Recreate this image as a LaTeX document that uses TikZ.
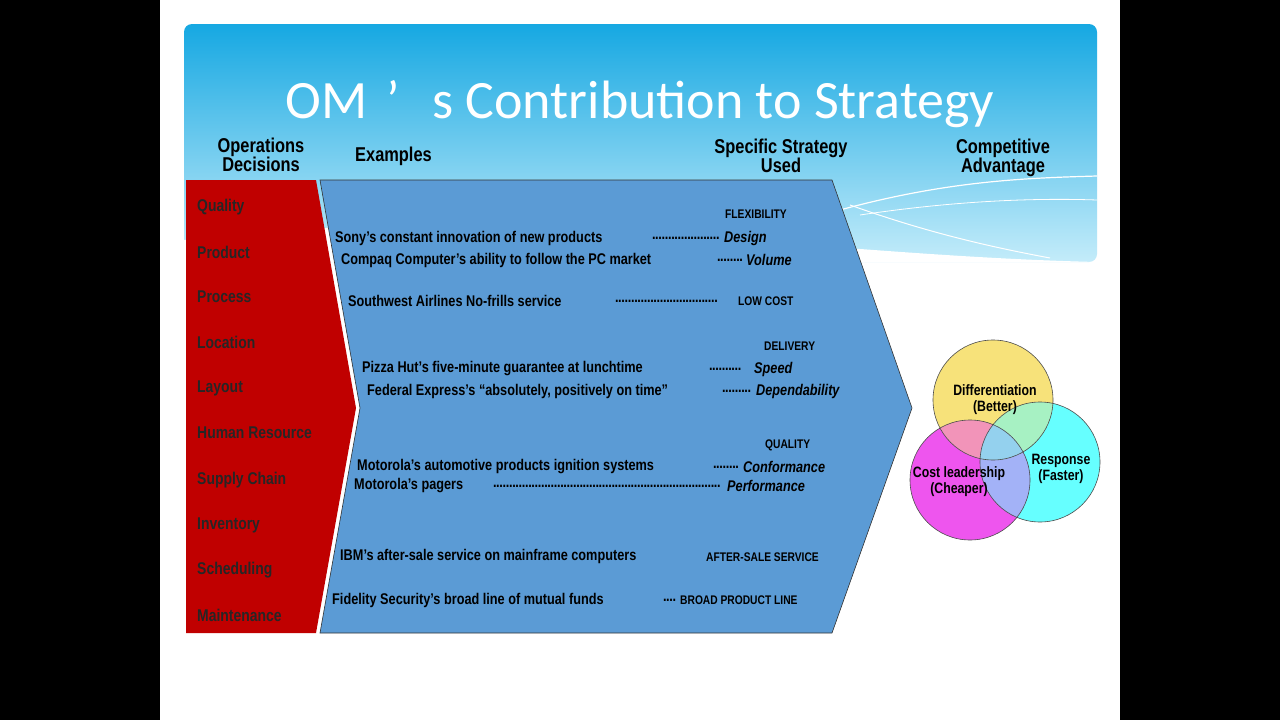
\documentclass[tikz,border=0pt]{standalone}
\usepackage{fontspec}
\setmainfont{Liberation Sans}[FakeStretch=0.82]
\newfontfamily\titlefont{Carlito}
\definecolor{hdtop}{HTML}{16A8E2}
\definecolor{hdbot}{HTML}{C4ECFA}
\definecolor{redbox}{HTML}{C00000}
\definecolor{bluebox}{HTML}{5B9BD5}
\definecolor{vyel}{HTML}{F7E27A}
\definecolor{vmag}{HTML}{EE55EE}
\definecolor{vcya}{HTML}{66FFFF}
\newcommand{\ldr}[1]{\hbox to #1pt{\leaders\hbox to 3.2pt{\hss.\hss}\hfill}}
\tikzset{
 hdr/.style={font=\bfseries\fontsize{20}{19}\selectfont,align=center,inner sep=0},
 dec/.style={font=\bfseries\fontsize{17}{17}\selectfont,anchor=west,inner sep=0,text=black!85},
 ex/.style={font=\bfseries\fontsize{15.5}{16}\selectfont,anchor=west,inner sep=0},
 capt/.style={font=\bfseries\fontsize{12.5}{13}\selectfont,anchor=west,inner sep=0},
 strat/.style={font=\bfseries\itshape\fontsize{15.5}{16}\selectfont,anchor=west,inner sep=0},
 vt/.style={font=\bfseries\fontsize{15}{16}\selectfont,align=center,inner sep=0}
}
\begin{document}
\begin{tikzpicture}[x=1pt,y=-1pt]
\useasboundingbox (0,0) rectangle (1280,720);
\fill[black] (0,0) rectangle (1280,720);
\fill[white] (160,0) rectangle (1120,720);
% header
\shade[top color=hdtop,bottom color=hdbot,rounded corners=8pt] (184,24) rectangle (1097,262);
\fill[white] (184,262) -- (184,240) .. controls (500,200) and (800,255) .. (1097,262) -- cycle;
\draw[white,line width=1.2pt] (840,210) .. controls (950,180) and (1030,178) .. (1097,176);
\draw[white,line width=1pt] (850,205) .. controls (920,230) and (980,245) .. (1050,258);
\draw[white,line width=0.8pt] (860,215) .. controls (960,200) and (1040,198) .. (1097,200);
\node[text=white,font=\titlefont\fontsize{54}{54}\selectfont,inner sep=0] (title) at (640,104) {OM\hspace{0.35em}’\hspace{0.6em}s Contribution to Strategy};
\node[hdr] (h1) at (261,155) {Operations\\Decisions};
\node[hdr,anchor=west] (h2) at (355,156) {Examples};
\node[hdr] (h3) at (781,156) {Specific Strategy\\Used};
\node[hdr] (h4) at (1003,158) {Competitive\\Advantage};
% red and blue chevrons
\fill[redbox] (186,180) -- (316,180) -- (356,408) -- (316,633) -- (186,633) -- cycle;
\draw[fill=bluebox,draw=black!80,line width=0.6pt] (320,180) -- (832,180) -- (912,408) -- (832,633) -- (320,633) -- (360,408) -- cycle;
% decisions
\foreach \t/\y [count=\i] in {Quality/207,Product/252,Process/297,Location/342,Layout/388,Human Resource/433,Supply Chain/480,Inventory/525,Scheduling/570,Maintenance/615}
  \node[dec] (d\i) at (197,\y) {\t};
% examples
\node[capt] (c1) at (725,214) {FLEXIBILITY};
\node[ex] (e1) at (335,238) {Sony’s constant innovation of new products};
\node[ex] (l1) at (652,238) {\ldr{70}};
\node[strat] (s1) at (724,238) {Design};
\node[ex] (e2) at (341,260) {Compaq Computer’s ability to follow the PC market};
\node[ex] (l2) at (717,260) {\ldr{26}};
\node[strat] (s2) at (746,260) {Volume};
\node[ex] (e3) at (348,301) {Southwest Airlines No-frills service};
\node[ex] (l3) at (615,301) {\ldr{104}};
\node[capt] (s3) at (738,301) {LOW COST};
\node[capt] (c2) at (764,346) {DELIVERY};
\node[ex] (e4) at (362,369) {Pizza Hut’s five-minute guarantee at lunchtime};
\node[ex] (l4) at (709,369) {\ldr{35}};
\node[strat] (s4) at (754,369) {Speed};
\node[ex] (e5) at (367,391) {Federal Express’s “absolutely, positively on time”};
\node[ex] (l5) at (722,391) {\ldr{29}};
\node[strat] (s5) at (756,391) {Dependability};
\node[capt] (c3) at (765,445) {QUALITY};
\node[ex] (e6) at (357,467) {Motorola’s automotive products ignition systems};
\node[ex] (l6) at (713,467) {\ldr{26}};
\node[strat] (s6) at (743,467) {Conformance};
\node[ex] (e7) at (354,486) {Motorola’s pagers};
\node[ex] (l7) at (493,486) {\ldr{228}};
\node[strat] (s7) at (727,486) {Performance};
\node[ex] (e8) at (340,556) {IBM’s after-sale service on mainframe computers};
\node[capt] (s8) at (706,557) {AFTER-SALE SERVICE};
\node[ex] (e9) at (332,600) {Fidelity Security’s broad line of mutual funds};
\node[ex] (l9) at (663,600) {\ldr{13}};
\node[capt] (s9) at (680,600) {BROAD PRODUCT LINE};
% venn
\fill[vcya] (1040,462) circle (60);
\fill[vmag] (970,480) circle (60);
\fill[vyel] (993,400) circle (60);
\begin{scope}[fill opacity=0.55]
 \begin{scope}\clip (993,400) circle (60); \fill[vcya] (1040,462) circle (60); \fill[vmag] (970,480) circle (60); \end{scope}
 \begin{scope}\clip (970,480) circle (60); \fill[vcya] (1040,462) circle (60); \end{scope}
\end{scope}
\draw[black!70,line width=0.6pt] (1040,462) circle (60) (970,480) circle (60) (993,400) circle (60);
\node[vt] (v1) at (995,400) {Differentiation\\(Better)};
\node[vt] (v2) at (959,482) {Cost leadership\\(Cheaper)};
\node[vt] (v3) at (1061,469) {Response\\(Faster)};
\end{tikzpicture}
\end{document}
